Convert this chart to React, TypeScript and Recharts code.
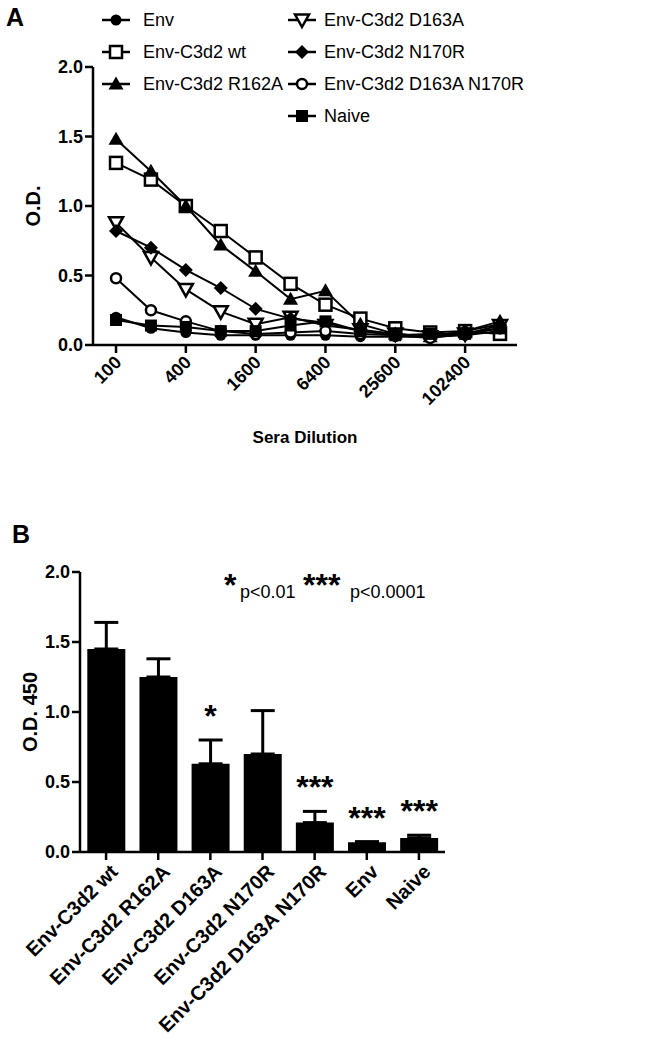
import React from "react";
import {
  LineChart,
  Line,
  XAxis,
  YAxis,
  BarChart,
  Bar,
  ErrorBar,
  LabelList,
} from "recharts";

// panel A: titration curves
const dilutions = [100, 200, 400, 800, 1600, 3200, 6400, 12800, 25600, 51200, 102400, 204800];
const dilutionTicks = [100, 400, 1600, 6400, 25600, 102400];
const odTicks = [0, 0.5, 1, 1.5, 2];

const envOD = [0.2, 0.12, 0.09, 0.07, 0.07, 0.07, 0.07, 0.06, 0.06, 0.06, 0.07, 0.1];
const wtOD = [1.31, 1.19, 1.0, 0.82, 0.63, 0.44, 0.29, 0.19, 0.12, 0.09, 0.1, 0.08];
const r162aOD = [1.48, 1.25, 1.0, 0.72, 0.53, 0.33, 0.39, 0.15, 0.08, 0.06, 0.1, 0.17];
const d163aOD = [0.88, 0.63, 0.4, 0.24, 0.15, 0.2, 0.14, 0.11, 0.08, 0.06, 0.08, 0.14];
const n170rOD = [0.82, 0.7, 0.54, 0.41, 0.26, 0.19, 0.16, 0.1, 0.08, 0.06, 0.1, 0.15];
const d163aN170rOD = [0.48, 0.25, 0.17, 0.1, 0.08, 0.09, 0.1, 0.08, 0.07, 0.05, 0.08, 0.12];
const naiveOD = [0.18, 0.14, 0.13, 0.1, 0.1, 0.14, 0.17, 0.1, 0.07, 0.08, 0.08, 0.12];

const seriesA = [
  { key: "env", name: "Env", values: envOD, marker: "circle" },
  { key: "wt", name: "Env-C3d2 wt", values: wtOD, marker: "openSquare" },
  { key: "r162a", name: "Env-C3d2 R162A", values: r162aOD, marker: "triangle" },
  { key: "d163a", name: "Env-C3d2 D163A", values: d163aOD, marker: "openTriangleDown" },
  { key: "n170r", name: "Env-C3d2 N170R", values: n170rOD, marker: "diamond" },
  { key: "dbl", name: "Env-C3d2 D163A N170R", values: d163aN170rOD, marker: "openCircle" },
  { key: "naive", name: "Naive", values: naiveOD, marker: "square" },
];

// panel B: bars at a single dilution
const groups = [
  "Env-C3d2 wt",
  "Env-C3d2 R162A",
  "Env-C3d2 D163A",
  "Env-C3d2 N170R",
  "Env-C3d2 D163A N170R",
  "Env",
  "Naive",
];
const meanOD = [1.45, 1.25, 0.63, 0.7, 0.21, 0.07, 0.1];
const sdOD = [0.19, 0.13, 0.17, 0.31, 0.08, 0.004, 0.02];
const stars = ["", "", "*", "", "***", "***", "***"];

const lineData = dilutions.map((d, i) => {
  const row: any = { dil: d };
  seriesA.forEach((s) => (row[s.key] = s.values[i]));
  return row;
});

const barData = groups.map((g, i) => ({
  group: g,
  od: meanOD[i],
  err: [0, sdOD[i]],
  star: stars[i],
}));

const FONT = "'Liberation Sans', Arial, sans-serif";
const TICK_FONT = 18;

function Marker({ cx, cy, type }: { cx: number; cy: number; type: string }) {
  if (cx == null || cy == null) return null;
  switch (type) {
    case "circle":
      return <circle cx={cx} cy={cy} r={5.5} fill="#000" />;
    case "openCircle":
      return <circle cx={cx} cy={cy} r={5} fill="#fff" stroke="#000" strokeWidth={2.5} />;
    case "square":
      return <rect x={cx - 6} y={cy - 6} width={12} height={12} fill="#000" />;
    case "openSquare":
      return <rect x={cx - 6} y={cy - 6} width={12} height={12} fill="#fff" stroke="#000" strokeWidth={2.5} />;
    case "triangle":
      return <polygon points={`${cx},${cy - 7.5} ${cx + 7.5},${cy + 5.5} ${cx - 7.5},${cy + 5.5}`} fill="#000" />;
    case "openTriangleDown":
      return (
        <polygon
          points={`${cx - 7},${cy - 5.5} ${cx + 7},${cy - 5.5} ${cx},${cy + 7}`}
          fill="#fff"
          stroke="#000"
          strokeWidth={2.5}
        />
      );
    case "diamond":
      return <polygon points={`${cx},${cy - 7} ${cx + 7},${cy} ${cx},${cy + 7} ${cx - 7},${cy}`} fill="#000" />;
    default:
      return null;
  }
}

function AngledTick(props: any) {
  const { x, y, payload, shiftX = 2, shiftY = 4, size = TICK_FONT } = props;
  return (
    <g transform={`translate(${x + shiftX},${y + shiftY}) rotate(-45)`}>
      <text
        x={0}
        y={0}
        dy="0.35em"
        textAnchor="end"
        fontSize={size}
        fontWeight="bold"
        fontFamily={FONT}
        fill="#000"
      >
        {payload.value}
      </text>
    </g>
  );
}

function StarLabel(props: any) {
  const { x, y, width, height, value, index } = props;
  if (!value) return null;
  const perUnit = height / meanOD[index];
  const errTop = y - sdOD[index] * perUnit;
  return (
    <text
      x={x + width / 2}
      y={errTop - 13}
      textAnchor="middle"
      fontSize={32}
      fontWeight="bold"
      fontFamily={FONT}
      fill="#000"
    >
      {value}
    </text>
  );
}

function LegendA() {
  const cols = [
    { items: seriesA.slice(0, 3), sx: 116, tx: 143 },
    { items: seriesA.slice(3), sx: 302, tx: 322 + 2 },
  ];
  return (
    <svg width={650} height={135} style={{ position: "absolute", left: 0, top: 0 }}>
      {cols.map((c) =>
        c.items.map((s, i) => {
          const y = 20 + i * 32;
          return (
            <g key={s.key}>
              <line x1={c.sx - 14} x2={c.sx + 14} y1={y} y2={y} stroke="#000" strokeWidth={2.5} />
              <Marker cx={c.sx} cy={y} type={s.marker} />
              <text x={c.tx} y={y} dy="0.35em" fontSize={18} fontFamily={FONT} fill="#000">
                {s.name}
              </text>
            </g>
          );
        })
      )}
    </svg>
  );
}

const axisLine = { stroke: "#000", strokeWidth: 2.5 };
const tickStyle = { fontSize: TICK_FONT, fontWeight: "bold", fill: "#000", fontFamily: FONT };
const titleStyle = (size: number) => ({
  fontSize: size,
  fontWeight: "bold",
  fill: "#000",
  fontFamily: FONT,
  textAnchor: "middle" as const,
});

export default function App() {
  return (
    <div
      style={{
        position: "absolute",
        left: 0,
        top: 0,
        width: 650,
        height: 1050,
        background: "#fff",
        fontFamily: FONT,
      }}
    >
      <div style={{ position: "absolute", left: 0, top: 0 }}>
        <LineChart
          width={650}
          height={460}
          data={lineData}
          margin={{ top: 67, right: 133, bottom: 15, left: 0 }}
        >
          <XAxis
            dataKey="dil"
            type="number"
            scale="log"
            domain={[63.3, 287000]}
            allowDataOverflow
            ticks={dilutionTicks}
            interval={0}
            tick={<AngledTick shiftX={2} shiftY={4} />}
            tickSize={8}
            tickLine={axisLine}
            axisLine={axisLine}
            height={100}
            label={{ value: "Sera Dilution", position: "insideBottom", offset: 2, style: titleStyle(17) }}
          />
          <YAxis
            domain={[0, 2]}
            ticks={odTicks}
            interval={0}
            width={93}
            tickFormatter={(v) => Number(v).toFixed(1)}
            tick={tickStyle}
            tickSize={8}
            tickLine={axisLine}
            axisLine={axisLine}
            label={{ value: "O.D.", angle: -90, position: "insideLeft", offset: 33, style: titleStyle(20) }}
          />
          {seriesA.map((s) => (
            <Line
              key={s.key}
              dataKey={s.key}
              name={s.name}
              stroke="#000"
              strokeWidth={2}
              isAnimationActive={false}
              dot={(p: any) => <Marker key={`${s.key}-${p.index}`} cx={p.cx} cy={p.cy} type={s.marker} />}
              activeDot={false}
            />
          ))}
        </LineChart>
      </div>

      <LegendA />

      <div style={{ position: "absolute", left: 0, top: 470 }}>
        <BarChart
          width={650}
          height={580}
          data={barData}
          margin={{ top: 102, right: 205, bottom: 8, left: 0 }}
          barCategoryGap="14%"
        >
          <XAxis
            dataKey="group"
            interval={0}
            tick={<AngledTick shiftX={8} shiftY={6} size={20} />}
            tickSize={8}
            tickLine={axisLine}
            axisLine={axisLine}
            height={190}
          />
          <YAxis
            domain={[0, 2]}
            ticks={odTicks}
            interval={0}
            width={80}
            tickFormatter={(v) => Number(v).toFixed(1)}
            tick={tickStyle}
            tickSize={8}
            tickLine={axisLine}
            axisLine={axisLine}
            label={{ value: "O.D. 450", angle: -90, position: "insideLeft", offset: 30, style: titleStyle(20) }}
          />
          <Bar dataKey="od" fill="#000" isAnimationActive={false}>
            <ErrorBar dataKey="err" direction="y" width={12} stroke="#000" strokeWidth={3} />
            <LabelList dataKey="star" content={<StarLabel />} />
          </Bar>
        </BarChart>
      </div>

      <svg width={650} height={1050} style={{ position: "absolute", left: 0, top: 0, pointerEvents: "none" }}>
        <text x={6} y={26} fontSize={25} fontWeight="bold" fontFamily={FONT} fill="#000">
          A
        </text>
        <text x={12} y={543} fontSize={25} fontWeight="bold" fontFamily={FONT} fill="#000">
          B
        </text>
        <text x={224} y={596} fontSize={32} fontWeight="bold" fontFamily={FONT} fill="#000">
          *
        </text>
        <text x={240} y={598} fontSize={18} fontFamily={FONT} fill="#000">
          p&lt;0.01
        </text>
        <text x={303} y={596} fontSize={32} fontWeight="bold" fontFamily={FONT} fill="#000">
          ***
        </text>
        <text x={350} y={598} fontSize={18} fontFamily={FONT} fill="#000">
          p&lt;0.0001
        </text>
      </svg>
    </div>
  );
}
